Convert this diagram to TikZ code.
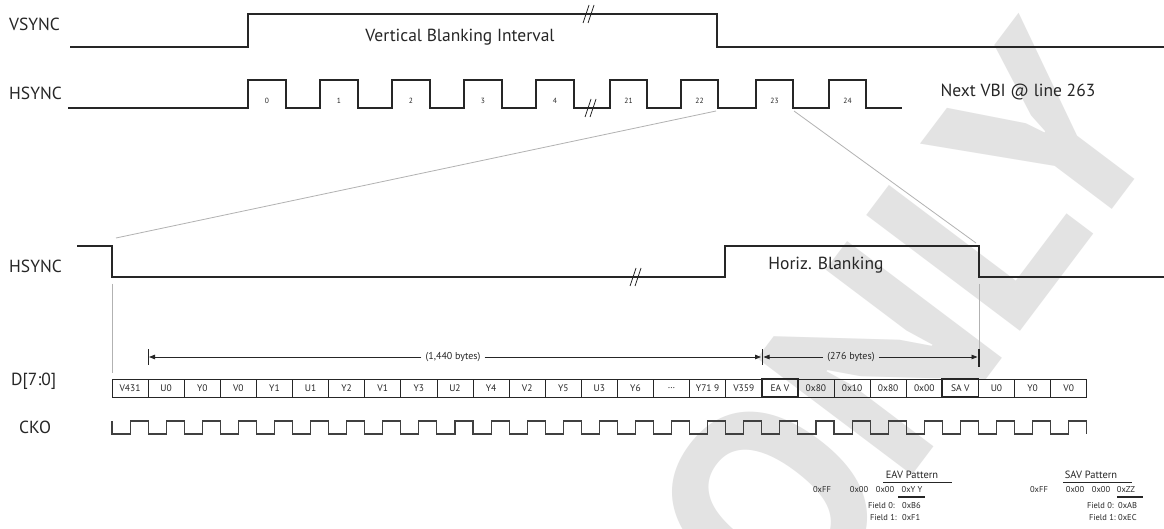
\documentclass[tikz,border=0pt]{standalone}
\usepackage{fontspec}
\setmainfont{PT Sans}
\usetikzlibrary{arrows.meta}
\begin{document}
\begin{tikzpicture}[x=1pt,y=-1pt,
  sig/.style={line width=1.8pt,draw=black!85,line join=miter},
  guide/.style={line width=0.8pt,draw=black!30},
  brk/.style={line width=0.8pt,draw=black!85},
  lbl/.style={font=\fontsize{17.5}{17.5}\selectfont,text=black!85,inner sep=0pt},
  pnum/.style={font=\fontsize{7.5}{7.5}\selectfont,text=black!85,inner sep=0pt},
  cellbox/.style={draw=black!85,line width=0.7pt},
  bcellbox/.style={draw=black!85,line width=1.8pt},
  celltxt/.style={font=\fontsize{9.5}{9.5}\selectfont,text=black!85,inner sep=0pt},
  dim/.style={line width=0.8pt,draw=black!85},
  dimtip/.style={-{Triangle[length=6pt,width=4.5pt]}},
  small/.style={font=\fontsize{10}{10}\selectfont,text=black!85,inner sep=0pt},
  pat/.style={font=\fontsize{8.5}{8.5}\selectfont,text=black!85,inner sep=0pt},
  pathead/.style={font=\fontsize{10.5}{10.5}\selectfont,text=black!85,inner sep=0pt}]
\path[use as bounding box,fill=white] (0,0) rectangle (1164,529);
% watermark
\begin{scope}
\clip (0,0) rectangle (1164,529);
\node[rotate=53,text=black!11,font=\fontsize{275}{275}\selectfont\bfseries,inner sep=0pt] (wm) at (905,325) {ONLY};
\end{scope}
% labels
\node[lbl,anchor=west] (lv) at (9,24) {VSYNC};
\node[lbl,anchor=west] (lh) at (9,93) {HSYNC};
\node[lbl,anchor=west] (lh2) at (9,266) {HSYNC};
\node[lbl,anchor=west] (ld) at (11,381) {D[7:0]};
\node[lbl,anchor=west] (lc) at (19,427) {CKO};
% VSYNC
\draw[sig] (70,47) -- (248,47) -- (248,14) -- (717,14) -- (717,47) -- (1164,47);
\draw[brk] (583,23) -- (589,5) (588,23) -- (594,5);
\node[lbl] (vbi) at (460,37) {Vertical Blanking Interval};
% HSYNC top
\draw[sig] (68,108)
  -- (248,108) -- (248,80) -- (286,80) -- (286,108)
  -- (320,108) -- (320,80) -- (358,80) -- (358,108)
  -- (392,108) -- (392,80) -- (430,80) -- (430,108)
  -- (464,108) -- (464,80) -- (502,80) -- (502,108)
  -- (536,108) -- (536,80) -- (574,80) -- (574,108)
  -- (610,108) -- (610,80) -- (647,80) -- (647,108)
  -- (681,108) -- (681,80) -- (718,80) -- (718,108)
  -- (756,108) -- (756,80) -- (793,80) -- (793,108)
  -- (829,108) -- (829,80) -- (866,80) -- (866,108)
  -- (902,108);
\draw[brk] (585,117) -- (591,99) (590,117) -- (596,99);
\foreach \n/\x in {0/267,1/339,2/411,3/483,4/555,21/628.5,22/699.5,23/774.5,24/847.5}
  \node[pnum] (p\n) at (\x,101) {\n};
\node[lbl] (next) at (1018,92) {Next VBI @ line 263};
% zoom guides
\coordinate (z1) at (716,111);
\coordinate (z2) at (794,111);
\coordinate (z3) at (116,238);
\coordinate (z4) at (976,243);
\draw[guide] (z1) -- (z3);
\draw[guide] (z2) -- (z4);
% HSYNC middle
\draw[sig] (77,246) -- (112,246) -- (112,277) -- (725,277) -- (725,246) -- (979,246) -- (979,277) -- (1164,277);
\draw[brk] (630,286) -- (636,268) (635,286) -- (641,268);
\node[lbl] (hb) at (826,265) {Horiz. Blanking};
% vertical guides
\coordinate (g1a) at (112,284);
\coordinate (g1b) at (112,373);
\coordinate (g2a) at (979,284);
\coordinate (g2b) at (979,350);
\draw[guide] (g1a) -- (g1b);
\draw[guide] (g2a) -- (g2b);
% dimension arrows
\node[small] (b1) at (453,357) {(1,440 bytes)};
\node[small] (b2) at (851,357) {(276 bytes)};
\coordinate (t1) at (148,357);
\coordinate (t2) at (762,357);
\coordinate (t3) at (979,357);
\draw[dim] (148,349) -- (148,365);
\draw[dim] (762,349) -- (762,365);
\draw[line width=1.2pt,draw=black!85] (979,349) -- (979,367);
\draw[dim,dimtip] ([xshift=-4pt]b1.west) -- ([xshift=1pt]t1);
\draw[dim,dimtip] ([xshift=4pt]b1.east) -- ([xshift=-1pt]t2);
\draw[dim,dimtip] ([xshift=-4pt]b2.west) -- ([xshift=1.5pt]t2);
\draw[dim,dimtip] ([xshift=4pt]b2.east) -- ([xshift=-1.5pt]t3);
% data cells
\foreach \t [count=\i from 0] in {V431,U0,Y0,V0,Y1,U1,Y2,V1,Y3,U2,Y4,V2,Y5,U3,Y6,\dots,Y71 9,V359,EA V,0x80,0x10,0x80,0x00,SA V,U0,Y0,V0}
  {\draw[cellbox] ({112+\i*36.1},379) rectangle ({112+(\i+1)*36.1},397);
   \node[celltxt] (c\i) at ({112+(\i+0.5)*36.1},388) {\t};}
\foreach \i in {18,23}
  \draw[bcellbox] ({112+\i*36.1},379) rectangle ({112+(\i+1)*36.1},397);
% CKO
\draw[line width=1.1pt,draw=black!75] (112,421) -- (112,434)
  \foreach \k in {0,...,26} { -- ({112+(\k+0.5)*36.1},434) -- ({112+(\k+0.5)*36.1},421) -- ({112+(\k+1)*36.1},421) -- ({112+(\k+1)*36.1},434) };
% EAV pattern
\node[pathead] (eavt) at (912,475) {EAV Pattern};
\draw[line width=0.7pt,draw=black!85] (883,482) -- (952,482);
\node[pat] (e1) at (822,490) {0xFF};
\node[pat] (e2) at (859,490) {0x00};
\node[pat] (e3) at (885,490) {0x00};
\node[pat] (e4) at (912,490) {0xY Y};
\draw[line width=1.8pt,draw=black!85] (898,497) -- (925,497);
\node[pat,anchor=east] (ef0) at (895,506) {Field 0:};
\node[pat,anchor=west] (ev0) at (902,506) {0xB6};
\node[pat,anchor=east] (ef1) at (897,518) {Field 1:};
\node[pat,anchor=west] (ev1) at (902,518) {0xF1};
% SAV pattern
\node[pathead] (savt) at (1091,475) {SAV Pattern};
\draw[line width=0.7pt,draw=black!85] (1063,482) -- (1132,482);
\node[pat] (s1) at (1039,490) {0xFF};
\node[pat] (s2) at (1075,490) {0x00};
\node[pat] (s3) at (1101,490) {0x00};
\node[pat] (s4) at (1126,490) {0xZZ};
\draw[line width=1.8pt,draw=black!85] (1117,497) -- (1143,497);
\node[pat,anchor=east] (sf0) at (1114,506) {Field 0:};
\node[pat,anchor=west] (sv0) at (1118,506) {0xAB};
\node[pat,anchor=east] (sf1) at (1116,518) {Field 1:};
\node[pat,anchor=west] (sv1) at (1118,518) {0xEC};
\end{tikzpicture}
\end{document}
